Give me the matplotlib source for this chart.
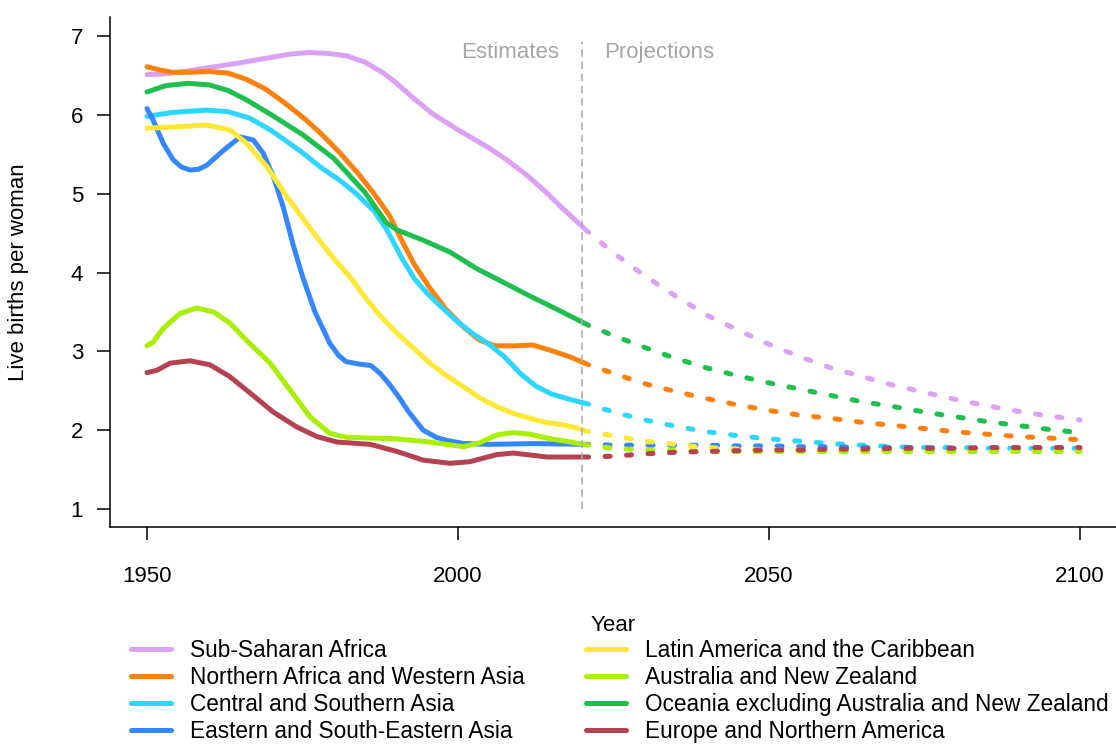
"""
Total fertility by SDG region, 1950-2100 (estimates + projections)
"""
import numpy as np
import matplotlib
matplotlib.use("Agg")
import matplotlib.pyplot as plt

plt.rcParams["font.family"] = ["Liberation Sans", "DejaVu Sans"]

# ── regions / colours ─────────────────────────────────────
REGIONS = [
    "Sub-Saharan Africa",
    "Northern Africa and Western Asia",
    "Central and Southern Asia",
    "Eastern and South-Eastern Asia",
    "Latin America and the Caribbean",
    "Australia and New Zealand",
    "Oceania excluding Australia and New Zealand",
    "Europe and Northern America",
]
COLORS = ["#DCA0F6", "#FE800E", "#2DD6FF", "#3587FF",
          "#FFE833", "#A8F000", "#1DBF4E", "#B44252"]

# ── estimates ─────────────────────────────────────────────
ssa_yr  = [1950, 1953, 1956, 1960, 1965, 1970, 1973, 1976, 1979, 1982, 1985, 1988,
           1990, 1993, 1996, 2000, 2005, 2008, 2011, 2014, 2017, 2021]
ssa_val = [6.51, 6.52, 6.55, 6.60, 6.66, 6.73, 6.77, 6.79, 6.78, 6.75, 6.67, 6.53,
           6.41, 6.20, 6.01, 5.81, 5.58, 5.42, 5.24, 5.03, 4.80, 4.51]

nawa_yr  = [1950, 1952, 1954, 1957, 1960, 1963, 1966, 1969, 1972, 1975.5, 1978, 1981,
            1984, 1986.5, 1989, 1991, 1993, 1995.5, 1998, 2001, 2003.5, 2006, 2009,
            2012, 2015, 2018, 2021]
nawa_val = [6.61, 6.57, 6.54, 6.54, 6.55, 6.53, 6.45, 6.33, 6.16, 5.94, 5.76, 5.52,
            5.25, 5.00, 4.72, 4.40, 4.10, 3.80, 3.54, 3.30, 3.14, 3.07, 3.07,
            3.08, 3.01, 2.93, 2.83]

csa_yr  = [1950, 1954, 1959.5, 1963, 1966.5, 1970, 1974.5, 1978, 1981, 1983.5, 1986.5,
           1988.5, 1991, 1993, 1995, 1997.5, 2000, 2002.5, 2005, 2007.5, 2010, 2012.5,
           2015, 2018, 2021]
csa_val = [5.98, 6.03, 6.06, 6.04, 5.96, 5.80, 5.55, 5.33, 5.17, 5.01, 4.78,
           4.55, 4.18, 3.92, 3.74, 3.55, 3.37, 3.22, 3.09, 2.93, 2.72, 2.56,
           2.46, 2.39, 2.33]

esea_yr  = [1950, 1951, 1952.6, 1954.2, 1955.5, 1956.9, 1958.3, 1959.6, 1962.3, 1965,
            1967.1, 1968.7, 1970.3, 1971.9, 1973.5, 1975, 1977, 1979.4, 1980.8, 1982,
            1984, 1986, 1987.5, 1989, 1990.5, 1992, 1994.4, 1996.5, 1998.2, 2001, 2005,
            2012, 2021]
esea_val = [6.08, 5.93, 5.64, 5.43, 5.34, 5.30, 5.31, 5.36, 5.55, 5.72,
            5.68, 5.51, 5.22, 4.83, 4.35, 3.95, 3.50, 3.10, 2.95, 2.87,
            2.84, 2.82, 2.72, 2.58, 2.42, 2.24, 2.00, 1.91, 1.87, 1.83, 1.82,
            1.83, 1.82]

lac_yr  = [1950, 1955, 1959.6, 1963.3, 1966, 1969.3, 1972.5, 1974.1, 1977, 1980.2, 1983.1,
           1985, 1987.5, 1990.2, 1993, 1995.5, 1998, 2000.9, 2003.5, 2006.2, 2009, 2011.6,
           2014, 2016.9, 2019, 2021]
lac_val = [5.83, 5.85, 5.87, 5.81, 5.64, 5.34, 4.96, 4.79, 4.48, 4.16, 3.90,
           3.69, 3.45, 3.23, 3.03, 2.85, 2.70, 2.55, 2.41, 2.30, 2.21, 2.15,
           2.10, 2.07, 2.03, 1.98]

anz_yr  = [1950, 1951, 1952.6, 1955.3, 1958, 1960.7, 1963.3, 1966, 1969.8, 1973, 1976.2,
           1979.4, 1982.1, 1986, 1990.2, 1995.5, 2000.9, 2003.5, 2006.2, 2008.9, 2011.5,
           2014.3, 2021]
anz_val = [3.07, 3.12, 3.29, 3.48, 3.55, 3.50, 3.36, 3.14, 2.85, 2.51, 2.17,
           1.96, 1.91, 1.90, 1.89, 1.85, 1.79, 1.84, 1.94, 1.97, 1.95,
           1.90, 1.81]

oce_yr  = [1950, 1953, 1956.5, 1960, 1963, 1966, 1970, 1975, 1980, 1985, 1988.5, 1990.2,
           1994.4, 1998.7, 2003, 2006.7, 2011.6, 2016, 2021]
oce_val = [6.29, 6.37, 6.40, 6.38, 6.31, 6.19, 6.00, 5.75, 5.45, 5.02, 4.63, 4.54,
           4.41, 4.26, 4.05, 3.90, 3.70, 3.53, 3.33]

ena_yr  = [1950, 1951.6, 1953.7, 1956.9, 1960.1, 1963.3, 1966.6, 1970.3, 1974.1, 1977.3,
           1980.5, 1985.9, 1990.2, 1994.4, 1998.7, 2001.9, 2006.2, 2008.9, 2014.3, 2021]
ena_val = [2.73, 2.76, 2.85, 2.88, 2.83, 2.68, 2.47, 2.23, 2.04, 1.92,
           1.85, 1.82, 1.73, 1.62, 1.58, 1.60, 1.69, 1.71, 1.66, 1.66]

# ── projections (medium variant) ──────────────────────────
PROJ_YEARS = [2021, 2025, 2030, 2035, 2040, 2045, 2050, 2055, 2060, 2065,
              2070, 2075, 2080, 2085, 2090, 2095, 2100]
ssa_proj  = [4.51, 4.25, 3.96, 3.70, 3.46, 3.27, 3.09, 2.93, 2.79, 2.68,
             2.57, 2.48, 2.39, 2.31, 2.24, 2.18, 2.13]
nawa_proj = [2.83, 2.72, 2.59, 2.49, 2.40, 2.32, 2.25, 2.19, 2.15, 2.10,
             2.06, 2.02, 1.98, 1.95, 1.92, 1.90, 1.88]
csa_proj  = [2.33, 2.23, 2.13, 2.05, 1.98, 1.93, 1.89, 1.86, 1.83, 1.81,
             1.79, 1.78, 1.78, 1.77, 1.77, 1.77, 1.77]
esea_proj = [1.82, 1.81, 1.81, 1.81, 1.81, 1.80, 1.80, 1.79, 1.79, 1.78,
             1.78, 1.78, 1.77, 1.77, 1.77, 1.77, 1.77]
lac_proj  = [1.98, 1.93, 1.86, 1.82, 1.78, 1.76, 1.75, 1.75, 1.74, 1.74,
             1.74, 1.74, 1.73, 1.73, 1.73, 1.73, 1.73]
anz_proj  = [1.81, 1.77, 1.75, 1.74, 1.73, 1.73, 1.73, 1.73, 1.73, 1.73,
             1.73, 1.73, 1.73, 1.73, 1.73, 1.73, 1.73]
oce_proj  = [3.33, 3.20, 3.05, 2.91, 2.79, 2.69, 2.60, 2.52, 2.44, 2.36,
             2.30, 2.23, 2.17, 2.11, 2.06, 2.01, 1.97]
ena_proj  = [1.66, 1.67, 1.70, 1.72, 1.73, 1.74, 1.75, 1.75, 1.76, 1.76,
             1.77, 1.77, 1.77, 1.78, 1.78, 1.78, 1.78]

EST = [(ssa_yr, ssa_val), (nawa_yr, nawa_val), (csa_yr, csa_val), (esea_yr, esea_val),
       (lac_yr, lac_val), (anz_yr, anz_val), (oce_yr, oce_val), (ena_yr, ena_val)]
PROJ = [ssa_proj, nawa_proj, csa_proj, esea_proj, lac_proj, anz_proj, oce_proj, ena_proj]

# ── figure ─────────────────────────────────────────────────
FS = 16
LW = 3.6
fig = plt.figure(figsize=(11.16, 7.44), dpi=100)
ax = fig.add_axes([110 / 1116, 1 - 527 / 744, 1 - 110 / 1116, 510 / 744])

handles = []
for (yr, val), proj, col, name in zip(EST, PROJ, COLORS, REGIONS):
    h, = ax.plot(yr, val, color=col, lw=LW, solid_capstyle="round",
                 solid_joinstyle="round", label=name)
    ax.plot(PROJ_YEARS, proj, color=col, lw=LW, linestyle=(1.0, (1.0, 3.3)),
            dash_capstyle="round")
    handles.append(h)

# estimates / projections divider
ax.plot([2020, 2020], [1.0, 6.93], color="#AAAAAA", lw=1.1, linestyle=(0, (5, 3)))
ax.text(2016.3, 6.79, "Estimates", ha="right", va="center", color="#A6A6A6", fontsize=FS)
ax.text(2023.5, 6.79, "Projections", ha="left", va="center", color="#A6A6A6", fontsize=FS)

ax.set_xlim(1944.05, 2105.8)
ax.set_ylim(0.772, 7.241)
ax.set_xticks([1950, 2000, 2050, 2100])
ax.set_yticks([1, 2, 3, 4, 5, 6, 7])
ax.tick_params(axis="both", direction="out", length=9.4, width=1.1, labelsize=FS,
               colors="black")
ax.tick_params(axis="x", pad=18.5)
ax.tick_params(axis="y", pad=10)
for s in ["top", "right"]:
    ax.spines[s].set_visible(False)
for s in ["left", "bottom"]:
    ax.spines[s].set_linewidth(1.1)

ax.set_ylabel("Live births per woman", fontsize=FS)
ax.yaxis.set_label_coords(-0.081, 0.5)
ax.set_xlabel("Year", fontsize=FS)
ax.xaxis.set_label_coords(0.5, -0.173)

# ── legend (two columns) ───────────────────────────────────
LEG_FS = 16.3
leg_kw = dict(loc="upper left", frameon=False, fontsize=LEG_FS, borderpad=0,
              borderaxespad=0, handlelength=1.8, handletextpad=0.85,
              labelspacing=0.17)
leg1 = fig.legend(handles[:4], REGIONS[:4], bbox_to_anchor=(130.5 / 1116, 1 - 639 / 744),
                  **leg_kw)
leg2 = fig.legend(handles[4:], REGIONS[4:], bbox_to_anchor=(585.5 / 1116, 1 - 639 / 744),
                  **leg_kw)

plt.savefig("out.png", dpi=100)
